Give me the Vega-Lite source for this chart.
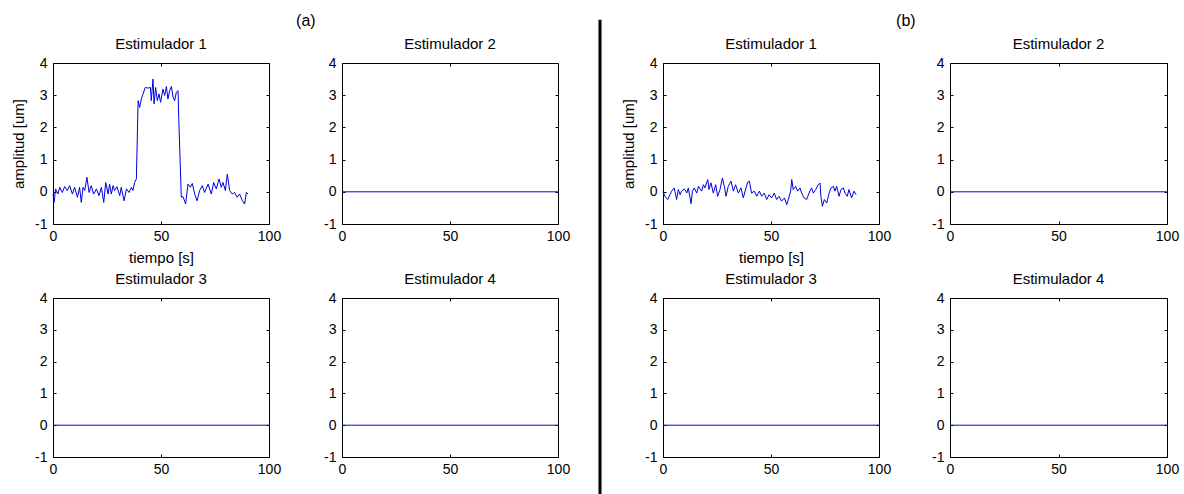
{
"$schema": "https://vega.github.io/schema/vega-lite/v6.json",
"background": "white",
"padding": {"left": 11, "top": 12, "right": 5, "bottom": 0},
"spacing": 19,
"datasets": {
"a1": [{"t":0,"amp":-0.07},{"t":0.5,"amp":-0.33},{"t":1.2,"amp":0.09},{"t":2.3,"amp":-0.07},{"t":3.1,"amp":0.14},{"t":4.3,"amp":-0.02},{"t":5.4,"amp":0.16},{"t":6.6,"amp":0.04},{"t":7.7,"amp":0.19},{"t":9.0,"amp":-0.07},{"t":10.0,"amp":0.14},{"t":11.3,"amp":-0.17},{"t":12.3,"amp":0.14},{"t":13.1,"amp":-0.33},{"t":13.9,"amp":0.14},{"t":14.7,"amp":0.04},{"t":15.7,"amp":0.45},{"t":16.7,"amp":-0.02},{"t":17.7,"amp":0.19},{"t":18.8,"amp":-0.07},{"t":20.1,"amp":0.09},{"t":21.3,"amp":-0.12},{"t":22.4,"amp":0.14},{"t":23.5,"amp":-0.33},{"t":24.4,"amp":0.29},{"t":25.5,"amp":-0.07},{"t":26.2,"amp":0.24},{"t":27.0,"amp":-0.07},{"t":27.8,"amp":0.19},{"t":28.5,"amp":0.04},{"t":29.6,"amp":0.16},{"t":30.9,"amp":-0.12},{"t":31.6,"amp":0.14},{"t":32.9,"amp":-0.28},{"t":34.0,"amp":0.09},{"t":35.2,"amp":-0.02},{"t":36.3,"amp":0.14},{"t":37.0,"amp":0.04},{"t":37.8,"amp":0.29},{"t":38.6,"amp":0.40},{"t":39.4,"amp":2.83},{"t":40.1,"amp":2.62},{"t":40.9,"amp":2.88},{"t":41.7,"amp":3.04},{"t":42.7,"amp":3.24},{"t":44.0,"amp":3.22},{"t":45.1,"amp":3.24},{"t":45.5,"amp":2.83},{"t":46.3,"amp":3.50},{"t":46.8,"amp":2.73},{"t":47.5,"amp":3.24},{"t":48.3,"amp":2.83},{"t":49.1,"amp":3.04},{"t":49.8,"amp":2.78},{"t":50.9,"amp":3.19},{"t":51.7,"amp":2.99},{"t":52.5,"amp":3.27},{"t":53.2,"amp":2.88},{"t":54.0,"amp":3.14},{"t":54.8,"amp":3.27},{"t":55.6,"amp":2.94},{"t":56.3,"amp":2.83},{"t":57.1,"amp":3.09},{"t":57.9,"amp":3.14},{"t":58.2,"amp":2.31},{"t":59.4,"amp":-0.17},{"t":60.2,"amp":-0.15},{"t":61.4,"amp":-0.38},{"t":62.5,"amp":0.24},{"t":63.6,"amp":0.14},{"t":64.5,"amp":0.26},{"t":65.6,"amp":-0.07},{"t":66.7,"amp":-0.28},{"t":67.9,"amp":0.04},{"t":69.1,"amp":0.19},{"t":70.2,"amp":-0.02},{"t":71.8,"amp":0.24},{"t":73.3,"amp":-0.07},{"t":74.4,"amp":0.29},{"t":75.6,"amp":0.09},{"t":76.9,"amp":0.40},{"t":77.9,"amp":0.14},{"t":78.7,"amp":0.29},{"t":79.8,"amp":0.04},{"t":80.7,"amp":0.55},{"t":81.8,"amp":0.04},{"t":83.0,"amp":-0.07},{"t":84.1,"amp":-0.02},{"t":85.2,"amp":-0.17},{"t":86.4,"amp":-0.07},{"t":87.7,"amp":-0.28},{"t":88.7,"amp":-0.38},{"t":89.5,"amp":-0.02},{"t":90.3,"amp":-0.07}],
"b1": [{"t":0,"amp":0.0},{"t":0.9,"amp":-0.14},{"t":2.2,"amp":-0.24},{"t":3.2,"amp":-0.09},{"t":4.0,"amp":0.02},{"t":5.2,"amp":0.12},{"t":6.3,"amp":-0.24},{"t":7.1,"amp":0.07},{"t":7.9,"amp":-0.09},{"t":8.6,"amp":0.02},{"t":9.9,"amp":0.09},{"t":11.0,"amp":-0.04},{"t":11.7,"amp":0.12},{"t":13.0,"amp":-0.37},{"t":13.6,"amp":0.02},{"t":14.5,"amp":0.12},{"t":15.6,"amp":-0.04},{"t":16.4,"amp":0.17},{"t":17.9,"amp":0.02},{"t":18.7,"amp":0.22},{"t":19.4,"amp":0.12},{"t":20.7,"amp":0.38},{"t":21.3,"amp":0.07},{"t":22.2,"amp":0.28},{"t":23.3,"amp":-0.04},{"t":24.4,"amp":0.22},{"t":25.3,"amp":-0.14},{"t":26.4,"amp":0.07},{"t":27.5,"amp":0.43},{"t":28.4,"amp":0.17},{"t":29.2,"amp":-0.14},{"t":30.2,"amp":0.17},{"t":31.5,"amp":0.33},{"t":32.6,"amp":0.02},{"t":33.6,"amp":0.22},{"t":34.9,"amp":-0.04},{"t":36.1,"amp":0.12},{"t":37.2,"amp":-0.19},{"t":38.0,"amp":0.02},{"t":39.2,"amp":0.30},{"t":40.0,"amp":0.33},{"t":41.0,"amp":-0.04},{"t":42.3,"amp":0.02},{"t":43.4,"amp":-0.14},{"t":44.6,"amp":0.02},{"t":45.7,"amp":-0.14},{"t":46.9,"amp":-0.04},{"t":48.0,"amp":-0.24},{"t":49.1,"amp":-0.09},{"t":50.3,"amp":-0.19},{"t":51.5,"amp":-0.04},{"t":52.6,"amp":-0.24},{"t":53.7,"amp":-0.14},{"t":54.9,"amp":-0.29},{"t":56.2,"amp":-0.19},{"t":57.3,"amp":-0.40},{"t":58.0,"amp":-0.24},{"t":59.1,"amp":0.02},{"t":59.6,"amp":0.38},{"t":60.3,"amp":0.07},{"t":61.4,"amp":0.17},{"t":62.3,"amp":0.02},{"t":63.4,"amp":0.12},{"t":64.2,"amp":-0.04},{"t":65.3,"amp":-0.19},{"t":66.5,"amp":-0.24},{"t":67.6,"amp":-0.04},{"t":68.8,"amp":0.12},{"t":69.6,"amp":-0.04},{"t":70.7,"amp":0.07},{"t":71.9,"amp":0.22},{"t":72.7,"amp":0.27},{"t":73.1,"amp":-0.14},{"t":73.8,"amp":-0.45},{"t":74.7,"amp":-0.24},{"t":75.8,"amp":-0.35},{"t":76.9,"amp":-0.04},{"t":77.8,"amp":0.12},{"t":78.9,"amp":0.17},{"t":79.6,"amp":0.02},{"t":80.4,"amp":0.17},{"t":81.5,"amp":-0.14},{"t":82.4,"amp":0.07},{"t":83.5,"amp":0.12},{"t":84.3,"amp":-0.04},{"t":85.3,"amp":-0.14},{"t":86.1,"amp":0.07},{"t":87.3,"amp":-0.19},{"t":88.4,"amp":0.02},{"t":89.4,"amp":-0.09}],
"zero": [{"t":0,"amp":0},{"t":100,"amp":0}]
},
"hconcat": [
{
"title": {"text": "(a)", "anchor": "start", "offset": 8, "dx": 285, "fontSize": 16},
"columns": 2,
"bounds": "flush",
"spacing": {"row": 74, "column": 73},
"concat": [
{"title": "Estimulador 1", "width": 216, "height": 161, "data": {"name": "a1"},
 "layer": [
  {"mark": {"type": "line", "color": "#0000e0", "strokeWidth": 1},
   "encoding": {"x": {"field": "t", "type": "quantitative", "scale": {"domain": [0, 100], "nice": false}, "axis": {"values": [0, 50, 100], "title": "tiempo [s]"}},
                "y": {"field": "amp", "type": "quantitative", "scale": {"domain": [-1, 4], "nice": false}, "axis": {"values": [-1, 0, 1, 2, 3, 4], "title": "amplitud [um]", "labelExpr": "'' + datum.value"}}}},
  {"mark": {"type": "line", "opacity": 0},
   "encoding": {"x": {"field": "t", "type": "quantitative", "axis": {"values": [0, 50, 100], "labels": false, "title": null, "orient": "top"}},
                "y": {"field": "amp", "type": "quantitative", "axis": {"values": [-1, 0, 1, 2, 3, 4], "labels": false, "title": null, "orient": "right"}}}}
 ],
 "resolve": {"axis": {"x": "independent", "y": "independent"}}},
{"title": "Estimulador 2", "width": 216, "height": 161, "data": {"name": "zero"},
 "layer": [
  {"mark": {"type": "line", "color": "#0000e0", "strokeWidth": 1},
   "encoding": {"x": {"field": "t", "type": "quantitative", "scale": {"domain": [0, 100], "nice": false}, "axis": {"values": [0, 50, 100], "title": null}},
                "y": {"field": "amp", "type": "quantitative", "scale": {"domain": [-1, 4], "nice": false}, "axis": {"values": [-1, 0, 1, 2, 3, 4], "title": null, "labelExpr": "'' + datum.value"}}}},
  {"mark": {"type": "line", "opacity": 0},
   "encoding": {"x": {"field": "t", "type": "quantitative", "axis": {"values": [0, 50, 100], "labels": false, "title": null, "orient": "top"}},
                "y": {"field": "amp", "type": "quantitative", "axis": {"values": [-1, 0, 1, 2, 3, 4], "labels": false, "title": null, "orient": "right"}}}}
 ],
 "resolve": {"axis": {"x": "independent", "y": "independent"}}},
{"title": "Estimulador 3", "width": 216, "height": 159, "data": {"name": "zero"},
 "layer": [
  {"mark": {"type": "line", "color": "#0000e0", "strokeWidth": 1},
   "encoding": {"x": {"field": "t", "type": "quantitative", "scale": {"domain": [0, 100], "nice": false}, "axis": {"values": [0, 50, 100], "title": null}},
                "y": {"field": "amp", "type": "quantitative", "scale": {"domain": [-1, 4], "nice": false}, "axis": {"values": [-1, 0, 1, 2, 3, 4], "title": null, "labelExpr": "'' + datum.value"}}}},
  {"mark": {"type": "line", "opacity": 0},
   "encoding": {"x": {"field": "t", "type": "quantitative", "axis": {"values": [0, 50, 100], "labels": false, "title": null, "orient": "top"}},
                "y": {"field": "amp", "type": "quantitative", "axis": {"values": [-1, 0, 1, 2, 3, 4], "labels": false, "title": null, "orient": "right"}}}}
 ],
 "resolve": {"axis": {"x": "independent", "y": "independent"}}},
{"title": "Estimulador 4", "width": 216, "height": 159, "data": {"name": "zero"},
 "layer": [
  {"mark": {"type": "line", "color": "#0000e0", "strokeWidth": 1},
   "encoding": {"x": {"field": "t", "type": "quantitative", "scale": {"domain": [0, 100], "nice": false}, "axis": {"values": [0, 50, 100], "title": null}},
                "y": {"field": "amp", "type": "quantitative", "scale": {"domain": [-1, 4], "nice": false}, "axis": {"values": [-1, 0, 1, 2, 3, 4], "title": null, "labelExpr": "'' + datum.value"}}}},
  {"mark": {"type": "line", "opacity": 0},
   "encoding": {"x": {"field": "t", "type": "quantitative", "axis": {"values": [0, 50, 100], "labels": false, "title": null, "orient": "top"}},
                "y": {"field": "amp", "type": "quantitative", "axis": {"values": [-1, 0, 1, 2, 3, 4], "labels": false, "title": null, "orient": "right"}}}}
 ],
 "resolve": {"axis": {"x": "independent", "y": "independent"}}}
]
},
{
"width": 10, "height": 432,
"data": {"values": [{}]},
"view": {"stroke": null},
"mark": {"type": "rule", "strokeWidth": 3, "color": "black"},
"encoding": {
 "x": {"datum": 1, "type": "quantitative", "scale": {"domain": [0, 1]}, "axis": null},
 "y": {"datum": 0, "type": "quantitative", "scale": {"domain": [0, 1]}, "axis": null},
 "y2": {"datum": 1.1}
}
},
{
"title": {"text": "(b)", "anchor": "start", "offset": 8, "dx": 275, "fontSize": 16},
"columns": 2,
"bounds": "flush",
"spacing": {"row": 74, "column": 71},
"concat": [
{"title": "Estimulador 1", "width": 216, "height": 161, "data": {"name": "b1"},
 "layer": [
  {"mark": {"type": "line", "color": "#0000e0", "strokeWidth": 1},
   "encoding": {"x": {"field": "t", "type": "quantitative", "scale": {"domain": [0, 100], "nice": false}, "axis": {"values": [0, 50, 100], "title": "tiempo [s]"}},
                "y": {"field": "amp", "type": "quantitative", "scale": {"domain": [-1, 4], "nice": false}, "axis": {"values": [-1, 0, 1, 2, 3, 4], "title": "amplitud [um]", "labelExpr": "'' + datum.value"}}}},
  {"mark": {"type": "line", "opacity": 0},
   "encoding": {"x": {"field": "t", "type": "quantitative", "axis": {"values": [0, 50, 100], "labels": false, "title": null, "orient": "top"}},
                "y": {"field": "amp", "type": "quantitative", "axis": {"values": [-1, 0, 1, 2, 3, 4], "labels": false, "title": null, "orient": "right"}}}}
 ],
 "resolve": {"axis": {"x": "independent", "y": "independent"}}},
{"title": "Estimulador 2", "width": 217, "height": 161, "data": {"name": "zero"},
 "layer": [
  {"mark": {"type": "line", "color": "#0000e0", "strokeWidth": 1},
   "encoding": {"x": {"field": "t", "type": "quantitative", "scale": {"domain": [0, 100], "nice": false}, "axis": {"values": [0, 50, 100], "title": null}},
                "y": {"field": "amp", "type": "quantitative", "scale": {"domain": [-1, 4], "nice": false}, "axis": {"values": [-1, 0, 1, 2, 3, 4], "title": null, "labelExpr": "'' + datum.value"}}}},
  {"mark": {"type": "line", "opacity": 0},
   "encoding": {"x": {"field": "t", "type": "quantitative", "axis": {"values": [0, 50, 100], "labels": false, "title": null, "orient": "top"}},
                "y": {"field": "amp", "type": "quantitative", "axis": {"values": [-1, 0, 1, 2, 3, 4], "labels": false, "title": null, "orient": "right"}}}}
 ],
 "resolve": {"axis": {"x": "independent", "y": "independent"}}},
{"title": "Estimulador 3", "width": 216, "height": 159, "data": {"name": "zero"},
 "layer": [
  {"mark": {"type": "line", "color": "#0000e0", "strokeWidth": 1},
   "encoding": {"x": {"field": "t", "type": "quantitative", "scale": {"domain": [0, 100], "nice": false}, "axis": {"values": [0, 50, 100], "title": null}},
                "y": {"field": "amp", "type": "quantitative", "scale": {"domain": [-1, 4], "nice": false}, "axis": {"values": [-1, 0, 1, 2, 3, 4], "title": null, "labelExpr": "'' + datum.value"}}}},
  {"mark": {"type": "line", "opacity": 0},
   "encoding": {"x": {"field": "t", "type": "quantitative", "axis": {"values": [0, 50, 100], "labels": false, "title": null, "orient": "top"}},
                "y": {"field": "amp", "type": "quantitative", "axis": {"values": [-1, 0, 1, 2, 3, 4], "labels": false, "title": null, "orient": "right"}}}}
 ],
 "resolve": {"axis": {"x": "independent", "y": "independent"}}},
{"title": "Estimulador 4", "width": 217, "height": 159, "data": {"name": "zero"},
 "layer": [
  {"mark": {"type": "line", "color": "#0000e0", "strokeWidth": 1},
   "encoding": {"x": {"field": "t", "type": "quantitative", "scale": {"domain": [0, 100], "nice": false}, "axis": {"values": [0, 50, 100], "title": null}},
                "y": {"field": "amp", "type": "quantitative", "scale": {"domain": [-1, 4], "nice": false}, "axis": {"values": [-1, 0, 1, 2, 3, 4], "title": null, "labelExpr": "'' + datum.value"}}}},
  {"mark": {"type": "line", "opacity": 0},
   "encoding": {"x": {"field": "t", "type": "quantitative", "axis": {"values": [0, 50, 100], "labels": false, "title": null, "orient": "top"}},
                "y": {"field": "amp", "type": "quantitative", "axis": {"values": [-1, 0, 1, 2, 3, 4], "labels": false, "title": null, "orient": "right"}}}}
 ],
 "resolve": {"axis": {"x": "independent", "y": "independent"}}}
]
}
],
"config": {
 "font": "Liberation Sans",
 "view": {"stroke": "black", "strokeWidth": 1},
 "axis": {"grid": false, "domain": false, "ticks": true, "tickColor": "black", "tickSize": -3, "labelFont": "Liberation Sans", "labelFontSize": 14, "labelColor": "black", "labelFlush": false, "labelOverlap": false, "titleFont": "Liberation Sans", "titleFontSize": 15, "titleFontWeight": "normal", "titleColor": "black"},
 "axisX": {"labelPadding": 8, "titlePadding": 7},
 "axisY": {"labelPadding": 9, "titlePadding": 8},
 "title": {"font": "Liberation Sans", "fontSize": 15, "fontWeight": "normal", "color": "black", "offset": 4}
}
}
